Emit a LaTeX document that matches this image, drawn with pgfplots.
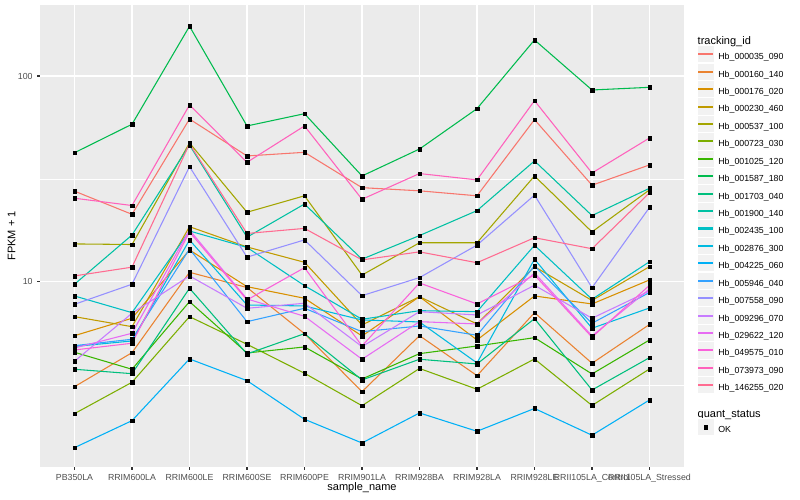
\documentclass[border=0pt]{standalone}
\usepackage{fontspec}
\setmainfont{Liberation Sans}
\usepackage{pgfplots}
\usepackage{pgfplotstable}
\pgfplotsset{compat=1.18}

\definecolor{panel}{HTML}{EBEBEB}
\definecolor{keybg}{HTML}{F2F2F2}
\definecolor{grey30}{HTML}{4D4D4D}
\definecolor{grey20}{HTML}{333333}
\definecolor{c1}{HTML}{F8766D}
\definecolor{c2}{HTML}{EA8331}
\definecolor{c3}{HTML}{D89000}
\definecolor{c4}{HTML}{C09B00}
\definecolor{c5}{HTML}{A3A500}
\definecolor{c6}{HTML}{7CAE00}
\definecolor{c7}{HTML}{39B600}
\definecolor{c8}{HTML}{00BB4E}
\definecolor{c9}{HTML}{00BF7D}
\definecolor{c10}{HTML}{00C1A3}
\definecolor{c11}{HTML}{00BFC4}
\definecolor{c12}{HTML}{00BAE0}
\definecolor{c13}{HTML}{00B0F6}
\definecolor{c14}{HTML}{35A2FF}
\definecolor{c15}{HTML}{9590FF}
\definecolor{c16}{HTML}{C77CFF}
\definecolor{c17}{HTML}{E76BF3}
\definecolor{c18}{HTML}{FA62DB}
\definecolor{c19}{HTML}{FF62BC}
\definecolor{c20}{HTML}{FF6C91}

% FPKM + 1 per sample (rows) and gene (columns s1..s20)
\pgfplotstableread{
x s1 s2 s3 s4 s5 s6 s7 s8 s9 s10 s11 s12 s13 s14 s15 s16 s17 s18 s19 s20
0 27.6 3.102 5.486 6.786 15.3 2.295 4.557 42.4 3.769 9.75 8.551 4.863 1.569 4.907 7.79 4.121 4.782 4.676 25.5 10.7
1 21.3 4.537 6.666 6.067 15.2 3.259 3.769 58.3 3.588 16.9 7.096 5.172 2.122 5.270 9.75 7.048 5.636 5.041 23.5 11.8
2 61.8 11.14 14.30 18.55 47.3 6.786 8.024 174.3 9.320 46.2 17.68 15.99 4.229 14.46 36.3 10.7 17.88 17.49 72.3 46.8
3 40.9 9.40 9.488 14.79 21.8 4.984 4.522 57.2 4.472 16.5 14.71 7.732 3.318 6.417 13.2 7.453 8.268 8.177 38.1 17.2
4 42.6 5.610 8.333 12.46 26.2 3.604 4.836 65.6 5.610 23.9 9.594 7.647 2.155 7.453 16.0 7.882 6.815 11.73 57.2 18.2
5 28.7 2.934 5.468 6.183 10.8 2.508 3.381 32.7 3.344 12.9 6.591 6.540 1.653 5.737 8.58 4.852 4.215 4.890 25.2 12.8
6 27.7 5.486 8.484 8.484 15.5 3.803 4.487 44.2 4.215 16.8 7.256 6.395 2.313 6.114 10.5 7.174 6.417 9.89 33.6 14.0
7 26.2 3.509 5.229 6.253 15.5 3.014 4.890 69.4 3.999 22.2 7.174 4.044 1.884 5.511 15.1 6.915 6.253 7.820 31.3 12.4
8 61.4 7.096 8.551 11.87 32.7 4.229 5.365 149.6 6.635 38.7 15.07 12.9 2.432 11.96 26.4 9.638 11.06 10.8 75.9 16.4
9 29.5 4.030 7.820 8.131 17.5 2.514 3.576 85.5 2.990 21.0 8.241 5.961 1.803 6.303 9.38 6.666 5.468 5.390 33.8 14.5
10 37.0 6.219 10.23 11.87 28.0 3.782 5.229 88.1 4.291 28.5 12.54 7.478 2.674 8.892 23.0 9.045 9.247 9.638 50.0 27.1
}\fpkm

\pgfplotsset{
  gline/.style={draw=#1, color=#1, line width=1.07pt,
      legend image code/.code={
      \filldraw[fill=keybg, draw=white, line width=1pt] (0pt,-5.64pt) rectangle (17.28pt,11.64pt);
      \fill[fill=#1] (1.7pt,2.5pt) rectangle (15.58pt,3.5pt);}},
}

\begin{document}
\begin{tikzpicture}
\path[use as bounding box] (0,0) rectangle (800pt,500pt);
\begin{axis}[
    at={(40pt,33pt)}, anchor=south west,
    scale only axis,
    width=644pt, height=462pt,
    ymode=log,
    xmin=-0.6, xmax=10.6,
    ymin=1.264, ymax=221.1,
    axis background/.style={fill=panel},
    axis line style={draw=none},
    xtick={0,...,10},
    xticklabels={PB350LA,RRIM600LA,RRIM600LE,RRIM600SE,RRIM600PE,RRIM901LA,RRIM928BA,RRIM928LA,RRIM928LE,RRII105LA\_Control,RRII105LA\_Stressed},
    ytick={10,100},
    yticklabels={10,100},
    yminorticks=false,
    xtick pos=bottom, ytick pos=left,
    tick align=outside,
    major tick length=2.75pt,
    tick style={grey20, line width=1.07pt},
    xmajorgrids, ymajorgrids,
    major grid style={white, line width=1.07pt},
    extra y ticks={3.1623,31.623},
    extra y tick labels={},
    extra y tick style={major tick length=0pt, grid=major, major grid style={white, line width=0.53pt}},
    /pgf/number format/assume math mode=true,
    ticklabel style={font=\fontsize{8.8}{10}\selectfont, text=grey30},
    xticklabel style={inner sep=0pt, anchor=north, yshift=-4.5pt},
    yticklabel style={inner sep=0pt, anchor=east, xshift=-4.5pt},
    xlabel={sample\_name},
    ylabel={FPKM + 1},
    label style={font=\fontsize{11}{13}\selectfont, text=black},
    xlabel style={at={(rel axis cs:0.5,0)}, anchor=center, yshift=-21pt},
    ylabel style={at={(rel axis cs:0,0.5)}, anchor=center, yshift=28.5pt},
    legend cell align=left,
    legend style={at={(rel axis cs:1,1)}, anchor=north west,
        xshift=12.7pt, yshift=-31.1pt,
        draw=none, fill=none, inner sep=0pt, outer sep=0pt,
        row sep=-0.86pt, column sep=3.4pt,
        font=\fontsize{8.8}{10}\selectfont,
        nodes={inner sep=0pt, outer sep=0pt}},
]
\addlegendimage{empty legend}
\addlegendentry{\hspace*{-20.68pt}\fontsize{11}{13}\selectfont\rule[-3.6pt]{0pt}{12pt}tracking\_id}

\addplot[gline=c1] table[x=x,y=s1]{\fpkm}; \addlegendentry{Hb\_000035\_090}
\addplot[gline=c2] table[x=x,y=s2]{\fpkm}; \addlegendentry{Hb\_000160\_140}
\addplot[gline=c3] table[x=x,y=s3]{\fpkm}; \addlegendentry{Hb\_000176\_020}
\addplot[gline=c4] table[x=x,y=s4]{\fpkm}; \addlegendentry{Hb\_000230\_460}
\addplot[gline=c5] table[x=x,y=s5]{\fpkm}; \addlegendentry{Hb\_000537\_100}
\addplot[gline=c6] table[x=x,y=s6]{\fpkm}; \addlegendentry{Hb\_000723\_030}
\addplot[gline=c7] table[x=x,y=s7]{\fpkm}; \addlegendentry{Hb\_001025\_120}
\addplot[gline=c8] table[x=x,y=s8]{\fpkm}; \addlegendentry{Hb\_001587\_180}
\addplot[gline=c9] table[x=x,y=s9]{\fpkm}; \addlegendentry{Hb\_001703\_040}
\addplot[gline=c10] table[x=x,y=s10]{\fpkm}; \addlegendentry{Hb\_001900\_140}
\addplot[gline=c11] table[x=x,y=s11]{\fpkm}; \addlegendentry{Hb\_002435\_100}
\addplot[gline=c12] table[x=x,y=s12]{\fpkm}; \addlegendentry{Hb\_002876\_300}
\addplot[gline=c13] table[x=x,y=s13]{\fpkm}; \addlegendentry{Hb\_004225\_060}
\addplot[gline=c14] table[x=x,y=s14]{\fpkm}; \addlegendentry{Hb\_005946\_040}
\addplot[gline=c15] table[x=x,y=s15]{\fpkm}; \addlegendentry{Hb\_007558\_090}
\addplot[gline=c16] table[x=x,y=s16]{\fpkm}; \addlegendentry{Hb\_009296\_070}
\addplot[gline=c17] table[x=x,y=s17]{\fpkm}; \addlegendentry{Hb\_029622\_120}
\addplot[gline=c18] table[x=x,y=s18]{\fpkm}; \addlegendentry{Hb\_049575\_010}
\addplot[gline=c19] table[x=x,y=s19]{\fpkm}; \addlegendentry{Hb\_073973\_090}
\addplot[gline=c20] table[x=x,y=s20]{\fpkm}; \addlegendentry{Hb\_146255\_020}

\pgfplotsinvokeforeach{1,...,20}{
  \addplot[only marks, mark=square*, mark size=1.8pt, black, forget plot] table[x=x,y=s#1]{\fpkm};
}

\addlegendimage{empty legend}
\addlegendentry{\hspace*{-20.68pt}\fontsize{11}{13}\selectfont\rule[-6.2pt]{0pt}{30pt}quant\_status}
\addlegendimage{legend image code/.code={
    \filldraw[fill=keybg, draw=white, line width=1pt] (0pt,-5.64pt) rectangle (17.28pt,11.64pt);
    \fill[black] (6.84pt,1.2pt) rectangle (10.44pt,4.8pt);}}
\addlegendentry{OK}
\end{axis}
\end{tikzpicture}
\end{document}
